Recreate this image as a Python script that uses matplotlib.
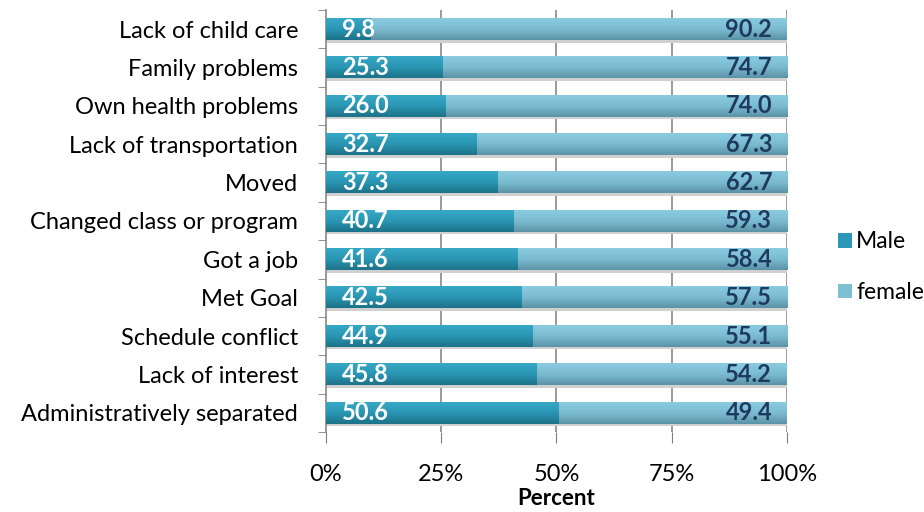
import numpy as np
import matplotlib
matplotlib.use("Agg")
from matplotlib import pyplot as plt
from matplotlib.colors import LinearSegmentedColormap

plt.rcParams['font.family'] = ['Lato', 'DejaVu Sans']

reasons = [
    "Lack of child care",
    "Family problems",
    "Own health problems",
    "Lack of transportation",
    "Moved",
    "Changed class or program",
    "Got a job",
    "Met Goal",
    "Schedule conflict",
    "Lack of interest",
    "Administratively separated",
]
male = [9.8, 25.3, 26.0, 32.7, 37.3, 40.7, 41.6, 42.5, 44.9, 45.8, 50.6]
female = [90.2, 74.7, 74.0, 67.3, 62.7, 59.3, 58.4, 57.5, 55.1, 54.2, 49.4]
xticks = [0, 25, 50, 75, 100]

male_color = "#2A98B6"
female_color = "#7DC0D4"
grid_color = "#7F7F7F"

# vertical shading used inside each bar (top -> bottom)
male_cmap = LinearSegmentedColormap.from_list(
    "male", ["#36A8C6", "#2A96B3", "#1D7288"])
female_cmap = LinearSegmentedColormap.from_list(
    "female", ["#8ACCDF", "#7BBBD0", "#5B93A6"])
shade = np.linspace(0, 1, 64).reshape(-1, 1)

fig = plt.figure(figsize=(9.24, 5.12), dpi=100)
ax = fig.add_axes([0.3528, 0.1563, 0.4989, 0.8242])

y = np.arange(len(reasons))
h = 0.56
bars_m = ax.barh(y, male, height=h, color=male_color, zorder=3, label="Male")
bars_f = ax.barh(y, female, left=male, height=h, color=female_color,
                 zorder=3, label="female")

for bars, cmap in ((bars_m, male_cmap), (bars_f, female_cmap)):
    for b in bars:
        x0, y0 = b.get_x(), b.get_y()
        w, bh = b.get_width(), b.get_height()
        ax.imshow(shade, cmap=cmap, aspect="auto", zorder=3.1,
                  extent=[x0, x0 + w, y0 + bh, y0], interpolation="bilinear")
        # soft drop shadow under the bar
        ax.fill_between([x0, x0 + w], y0 + bh, y0 + bh + 0.07,
                        color="#D0D0D0", lw=0, zorder=2.5)

for yi, m, f in zip(y, male, female):
    ax.text(3.5, yi, f"{m:.1f}", color="white", fontweight="bold",
            fontsize=17, va="center", ha="left", zorder=4)
    ax.text(96.8, yi, f"{f:.1f}", color="#1F3A60", fontweight="bold",
            fontsize=17, va="center", ha="right", zorder=4)

ax.set_xlim(0, 100)
ax.set_ylim(len(reasons) - 0.5, -0.5)
ax.set_xticks(xticks)
ax.set_xticklabels([f"{t}%" for t in xticks], fontsize=17)
ax.set_yticks(y)
ax.set_yticklabels(reasons, fontsize=17)
ax.set_yticks(np.arange(len(reasons) + 1) - 0.5, minor=True)
ax.tick_params(axis="y", which="major", length=0, pad=20)
ax.tick_params(axis="y", which="minor", length=6, color=grid_color,
               direction="out")
ax.tick_params(axis="x", length=8, color=grid_color, direction="out",
               pad=15)

for t in xticks[1:]:
    ax.axvline(t, color=grid_color, lw=1.1, zorder=1)

for side in ("top", "right", "bottom"):
    ax.spines[side].set_visible(False)
ax.spines["left"].set_color(grid_color)
ax.spines["left"].set_linewidth(1.1)

ax.set_xlabel("Percent", fontsize=16, fontweight="bold")
ax.xaxis.set_label_coords(0.5, -0.133)

handles, labels = ax.get_legend_handles_labels()
leg = fig.legend(handles[:2], labels[:2], loc="center left",
                 bbox_to_anchor=(0.897, 0.478), frameon=False, fontsize=16.5,
                 handlelength=0.6, handleheight=0.6, handletextpad=0.2,
                 labelspacing=1.3, borderaxespad=0)

fig.savefig("out.png", dpi=100)
